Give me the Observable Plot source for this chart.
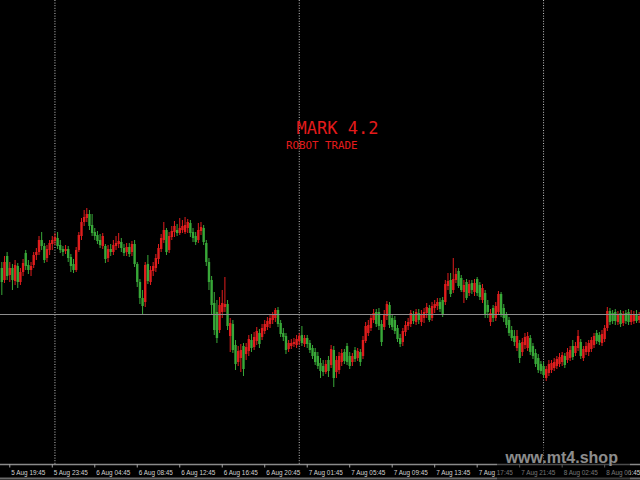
<!DOCTYPE html>
<html><head><meta charset="utf-8">
<script src="https://cdn.jsdelivr.net/npm/d3@7"></script>
<script src="https://cdn.jsdelivr.net/npm/@observablehq/plot@0.6"></script>
<style>
html,body{margin:0;padding:0;background:#000;}
#wrap{position:relative;width:640px;height:480px;overflow:hidden;background:#000;}
#dim{position:absolute;left:497px;top:444px;width:133px;height:36px;background:rgba(0,0,0,0.45);}
</style></head><body>
<div id="wrap"><div id="chart"></div><div id="dim"></div></div>
<script>
// M15 candles, prices in points
const open = [
232,220,244,225,232,219,234,218,228,247,
235,230,235,245,248,260,254,242,250,256,
259,262,255,251,249,251,243,236,230,250,
264,278,282,286,275,268,265,260,254,254,
242,251,248,254,256,258,252,248,253,248,
256,236,218,202,198,236,218,229,232,241,
251,260,270,250,263,268,270,267,270,268,
272,277,268,264,260,269,272,257,238,220,
197,188,170,188,193,196,164,176,155,138,
142,154,146,149,160,153,159,167,163,169,
173,176,180,182,190,177,167,164,151,154,
156,155,159,165,156,162,157,152,148,144,
137,134,128,140,135,150,128,130,138,148,
154,144,138,150,142,148,144,159,167,172,
180,188,188,176,173,184,195,182,180,172,
162,158,168,174,176,186,178,187,178,182,
187,192,182,192,194,198,200,198,214,220,
210,220,229,222,208,218,207,217,208,221,
215,200,207,195,178,192,182,188,206,192,
185,180,170,164,152,157,148,155,152,162,
154,147,142,136,134,122,127,130,132,134,
136,138,144,140,142,154,147,152,158,142,
148,148,151,155,167,165,157,161,172,189,
187,188,178,187,177,187,188,178,179,186,180];
const high = [
238,244,248,238,236,240,237,232,241,250,
240,238,248,252,264,268,257,255,260,264,
267,268,260,254,255,254,246,241,253,268,
282,290,292,290,286,272,269,266,267,256,
255,256,260,264,267,262,256,257,257,259,
260,238,221,210,238,245,234,238,246,256,
266,278,272,268,274,279,276,282,280,283,
281,280,272,268,277,278,275,260,242,224,
208,200,203,210,223,200,182,180,160,154,
156,157,157,165,166,168,173,171,176,180,
183,186,188,192,193,180,172,167,160,161,
162,165,167,174,165,165,160,155,152,148,
142,140,140,144,155,154,144,148,151,151,
157,148,147,153,152,151,164,178,180,186,
191,191,192,180,190,199,198,186,184,175,
166,172,179,182,190,189,191,191,190,192,
197,195,198,200,202,202,203,220,227,227,
242,232,232,225,220,221,220,220,221,223,
218,216,210,200,191,195,198,209,208,196,
188,183,174,170,170,160,162,167,168,165,
157,151,146,139,138,134,140,140,142,144,
147,148,147,152,154,160,158,170,161,154,
158,160,163,167,170,168,170,175,193,192,
190,191,189,190,189,190,191,190,189,190,188];
const low = [
205,217,220,218,210,215,212,215,224,230,
226,224,232,240,245,250,237,238,245,250,
255,251,247,244,246,238,228,227,228,248,
260,274,278,270,264,260,256,252,251,237,
238,244,245,250,252,248,244,244,243,244,
233,213,196,185,193,216,215,224,228,236,
248,257,245,247,260,263,264,265,267,266,
267,263,258,255,257,265,255,234,210,185,
165,157,167,182,188,170,148,147,130,134,
128,124,140,144,148,150,155,152,160,166,
170,172,176,178,173,163,159,146,148,151,
153,152,155,154,153,152,147,141,135,131,
122,124,126,123,132,113,122,126,134,136,
135,131,134,138,139,134,141,157,164,169,
177,173,170,154,170,180,172,170,166,158,
153,154,164,170,173,176,175,176,174,177,
182,178,179,187,190,188,183,195,210,203,
207,217,212,208,197,200,204,206,204,204,
200,197,182,182,174,178,179,185,183,178,
172,164,159,154,149,137,144,151,149,145,
141,133,127,126,122,119,124,127,129,131,
133,134,132,137,139,140,144,149,141,139,
145,144,148,152,156,155,154,158,169,175,
176,175,175,173,174,176,175,175,176,177,177];
const close = [
218,238,224,232,220,235,218,228,237,234,
230,234,245,248,260,254,240,251,257,260,
263,254,250,248,251,242,234,230,250,265,
278,283,286,274,267,264,259,255,264,241,
251,248,255,257,259,252,247,253,246,256,
236,218,202,194,235,219,230,234,242,252,
262,270,248,264,269,274,267,272,274,275,
278,267,262,258,270,273,258,238,218,195,
170,162,195,197,196,174,177,150,136,149,
150,131,153,161,152,163,169,156,172,176,
179,182,185,190,176,166,163,150,157,157,
158,161,164,157,162,156,150,144,138,134,
129,128,136,129,151,122,140,144,147,139,
138,134,144,141,149,138,160,174,175,182,
187,176,174,158,186,196,175,173,169,161,
156,169,175,178,187,179,188,180,185,188,
193,180,194,196,198,191,186,216,219,206,
221,226,214,210,215,202,216,210,217,207,
203,212,185,188,187,182,194,206,186,182,
175,167,162,158,164,142,158,163,164,148,
144,136,130,129,125,131,136,137,138,141,
143,145,135,148,150,143,154,164,144,151,
154,157,160,164,159,158,166,172,189,178,
179,179,186,176,186,179,178,186,186,179,184];
const tickBars = [3,19,35,51,67,83,99,115,131,147,163,179,195,211,227];
const tickLabels = ["5 Aug 19:45","5 Aug 23:45","6 Aug 04:45","6 Aug 08:45","6 Aug 12:45","6 Aug 16:45","6 Aug 20:45","7 Aug 01:45","7 Aug 05:45","7 Aug 09:45","7 Aug 13:45","7 Aug 17:45","7 Aug 21:45","8 Aug 02:45","8 Aug 06:45"];
const daySeparators = [20,112,204];
const levelLine = [186];
const titleText = "MARK 4.2";
const subtitleText = "ROBOT TRADE";
const watermarkText = "www.mt4.shop";

const candles = open.map((o,i)=>({i, open:o, high:high[i], low:low[i], close:close[i]}));
const ups = candles.filter(d => d.close >= d.open);
const downs = candles.filter(d => d.close < d.open);
const UP = "#e01d1d", DOWN = "#38a838";
const axisBase = 36;

const chart = Plot.plot({
  width: 640, height: 480,
  marginTop: 0, marginRight: 0, marginLeft: 0, marginBottom: 16,
  x: {domain: [-0.5, 240.5], axis: null},
  y: {domain: [36, 500], axis: null},
  style: {background: "#000", color: "#c8c8c8", overflow: "visible"},
  marks: [
    Plot.ruleX(daySeparators, {stroke: "#c4c4c4", strokeDasharray: "1,1.6"}),
    Plot.ruleX(ups, {x: "i", y1: "low", y2: "high", stroke: UP, strokeWidth: 1}),
    Plot.ruleX(downs, {x: "i", y1: "low", y2: "high", stroke: DOWN, strokeWidth: 1}),
    Plot.ruleX(ups, {x: "i", y1: "open", y2: "close", stroke: UP, strokeWidth: 2.4}),
    Plot.ruleX(downs, {x: "i", y1: "open", y2: "close", stroke: DOWN, strokeWidth: 2.4}),
    Plot.ruleY(levelLine, {stroke: "#8e8e8e", strokeWidth: 1}),
    Plot.ruleY([axisBase], {stroke: "#8a8a8a", strokeWidth: 1.5}),
    Plot.ruleY([22], {stroke: "#6a6a6a", strokeWidth: 2}),
    Plot.ruleX(tickBars, {y1: axisBase, y2: axisBase - 3.5, stroke: "#a0a0a0"}),
    Plot.text(tickBars, {x: d => d, y: axisBase, text: (d, i) => tickLabels[i], dy: 8, dx: 1.5,
      textAnchor: "start", fill: "#d2d2d2", fontSize: 6.4, fontFamily: "Liberation Sans, Arial, sans-serif"}),
    Plot.text([{x: 111, y: 371.5, t: titleText}], {x: "x", y: "y", text: "t", textAnchor: "start",
      fill: "#e31b1b", fontSize: 17, fontFamily: "DejaVu Sans Mono, monospace"}),
    Plot.text([{x: 107, y: 354.5, t: subtitleText}], {x: "x", y: "y", text: "t", textAnchor: "start",
      fill: "#e31b1b", fontSize: 10.8, fontFamily: "DejaVu Sans Mono, monospace"}),
    Plot.text([{x: 189.7, y: 43, t: watermarkText}], {x: "x", y: "y", text: "t", textAnchor: "start",
      fill: "#ffffff", fontSize: 16, fontWeight: "bold", fontFamily: "Liberation Sans, Arial, sans-serif"})
  ]
});
document.getElementById("chart").appendChild(chart);
</script>
</body></html>
